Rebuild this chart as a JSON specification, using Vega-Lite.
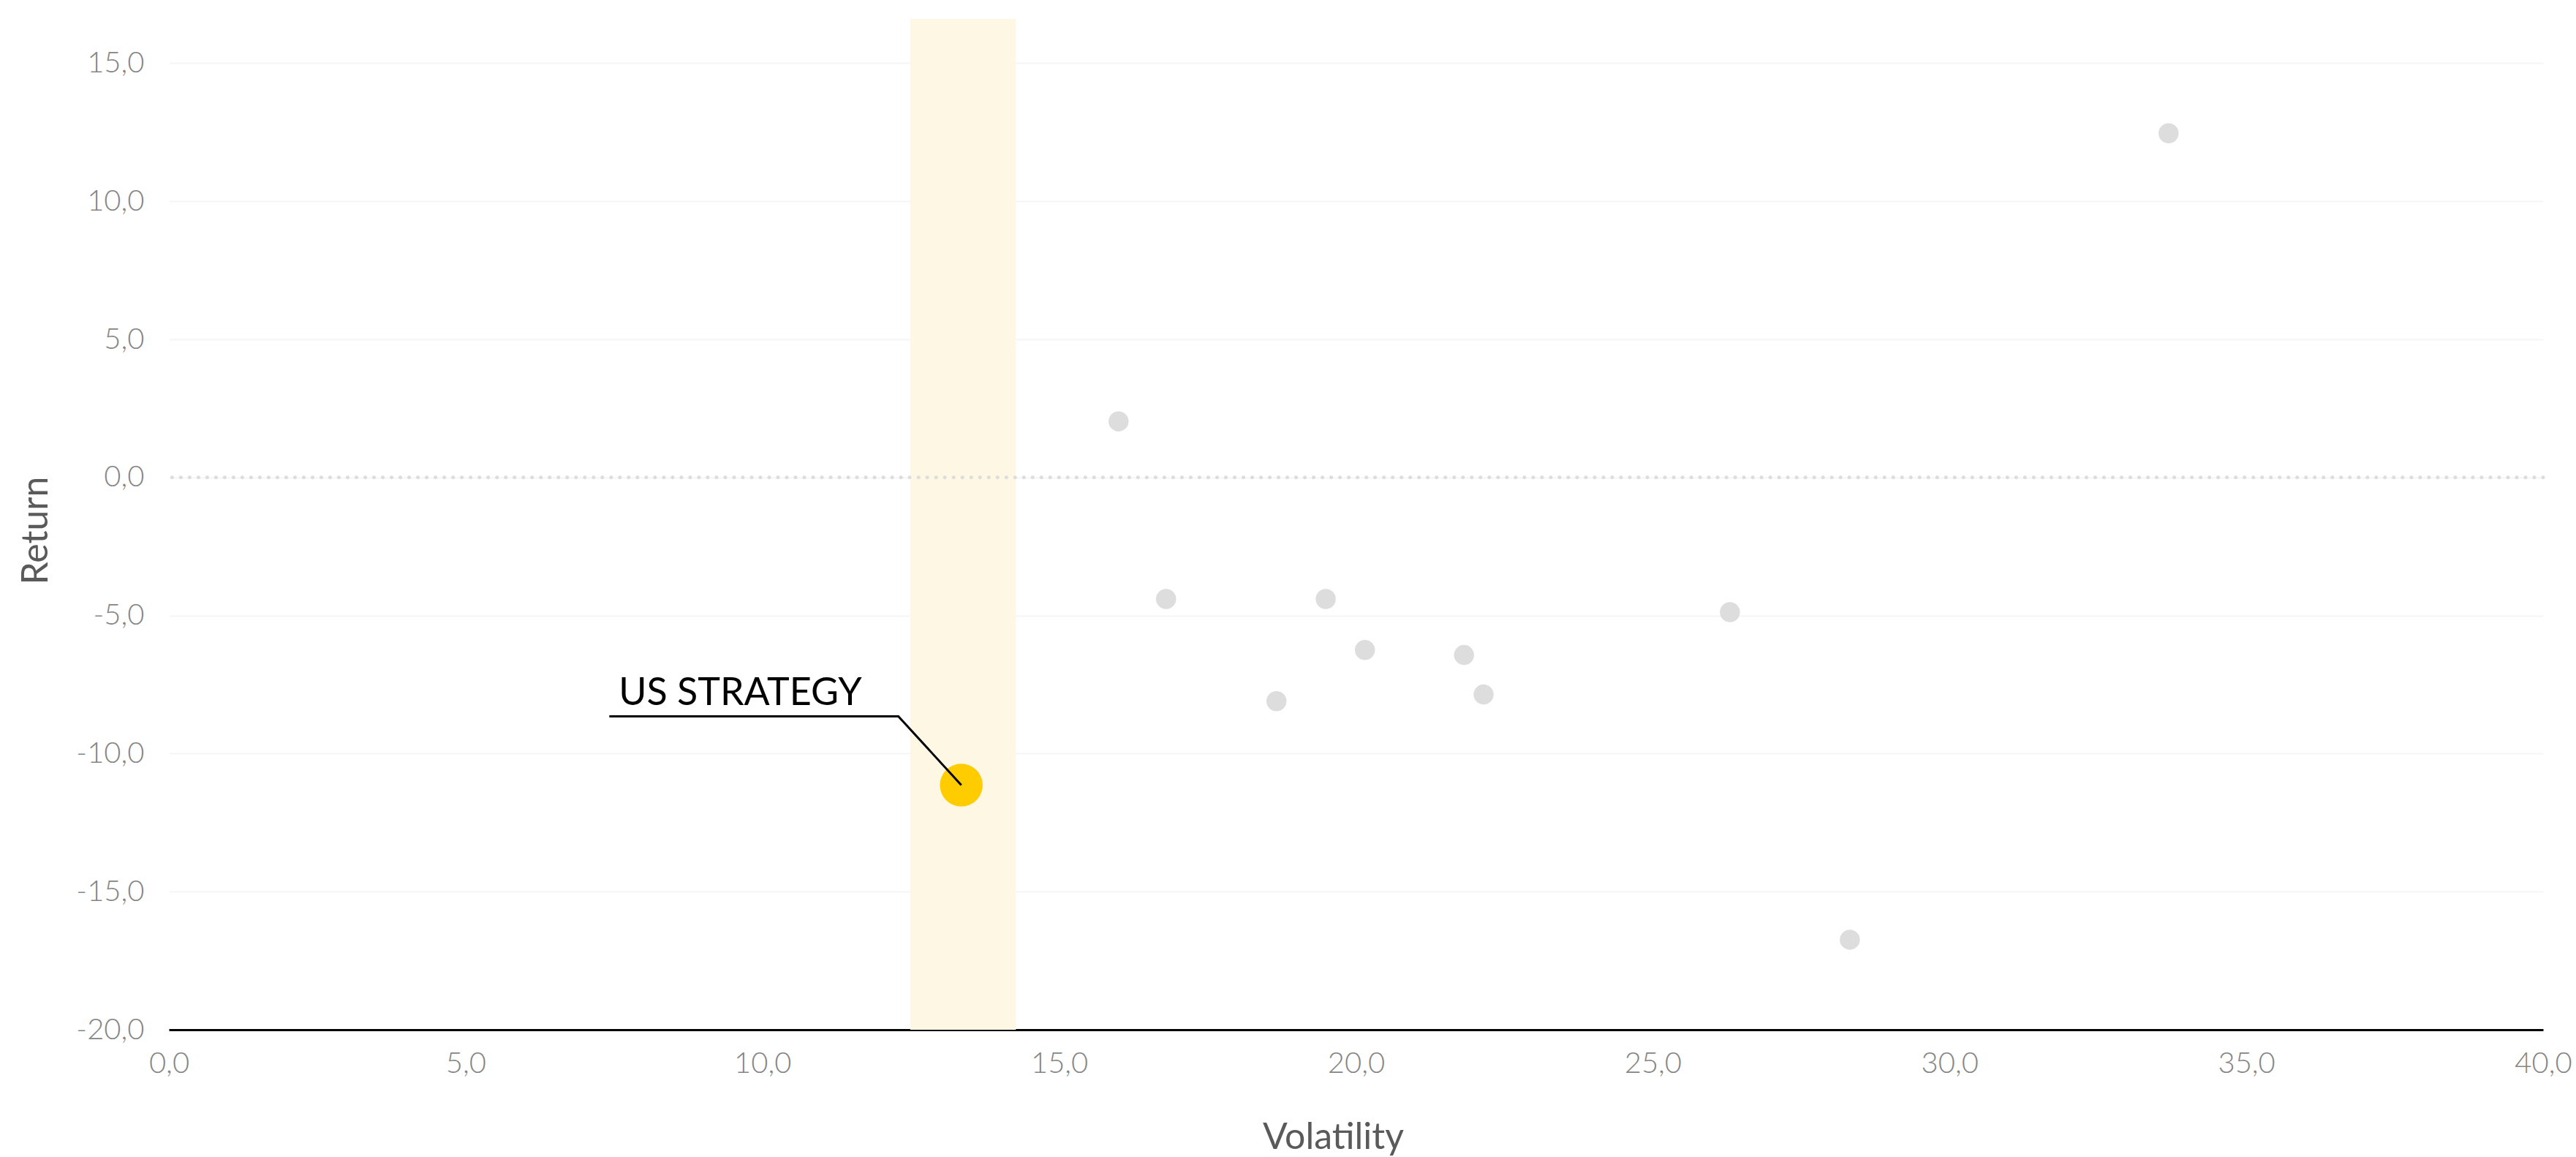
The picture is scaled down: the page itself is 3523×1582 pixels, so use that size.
{
  "$schema": "https://vega.github.io/schema/vega-lite/v6.json",
  "autosize": {"type": "none"},
  "padding": {"left": 231, "top": 26, "right": 45, "bottom": 174},
  "width": 3247,
  "height": 1382,
  "background": "white",
  "config": {
    "view": {"stroke": null},
    "font": "Lato"
  },
  "datasets": {
    "funds": [
      {"name": "A", "vol": 16.0, "ret": 2.03},
      {"name": "B", "vol": 16.8, "ret": -4.4},
      {"name": "C", "vol": 18.66, "ret": -8.1},
      {"name": "D", "vol": 19.49, "ret": -4.4},
      {"name": "E", "vol": 20.15, "ret": -6.25},
      {"name": "F", "vol": 21.82, "ret": -6.43},
      {"name": "G", "vol": 22.15, "ret": -7.86},
      {"name": "H", "vol": 26.3, "ret": -4.88},
      {"name": "I", "vol": 28.32, "ret": -16.74},
      {"name": "J", "vol": 33.69, "ret": 12.46}
    ],
    "strategy": [
      {"name": "US STRATEGY", "vol": 13.35, "ret": -11.14}
    ],
    "band": [
      {"vol": 12.49, "vol2": 14.27}
    ],
    "zero": [
      {"ret": 0}
    ],
    "leader": [
      {"order": 1, "vol": 7.42, "ret": -8.65},
      {"order": 2, "vol": 12.29, "ret": -8.65},
      {"order": 3, "vol": 13.35, "ret": -11.14}
    ],
    "label": [
      {"text": "US STRATEGY", "vol": 7.58, "ret": -8.23}
    ]
  },
  "layer": [
    {
      "data": {"name": "band"},
      "mark": {"type": "rect", "color": "#FEF7E4"},
      "encoding": {
        "x": {"field": "vol", "type": "quantitative", "scale": {"domain": [0, 40], "nice": false, "zero": false}},
        "x2": {"field": "vol2"}
      }
    },
    {
      "data": {"name": "funds"},
      "mark": {"type": "circle", "color": "#DDDDDD", "opacity": 1, "size": 755},
      "encoding": {
        "x": {
          "field": "vol", "type": "quantitative",
          "scale": {"domain": [0, 40], "nice": false, "zero": false},
          "axis": {
            "title": "Volatility",
            "values": [0, 5, 10, 15, 20, 25, 30, 35, 40],
            "labelExpr": "replace(format(datum.value, '.1f'), '.', ',')",
            "grid": false,
            "ticks": false,
            "domain": true,
            "domainColor": "#000000",
            "domainWidth": 3,
            "labelFont": "Lato",
            "labelFontWeight": 300,
            "labelFontSize": 40,
            "labelColor": "#858585",
            "labelBaseline": "middle",
            "labelPadding": 46,
            "labelFlush": false,
            "labelOverlap": false,
            "titleFont": "Lato",
            "titleFontWeight": 400,
            "titleFontSize": 50,
            "titleColor": "#5A5A5A",
            "titleX": 1592,
            "titleY": 162,
            "titleAlign": "center",
            "titleBaseline": "alphabetic"
          }
        },
        "y": {
          "field": "ret", "type": "quantitative",
          "scale": {"domain": [-20, 16.6], "nice": false, "zero": false},
          "axis": {
            "title": "Return",
            "values": [-20, -15, -10, -5, 0, 5, 10, 15],
            "labelExpr": "(datum.value < 0 ? '-' : '') + replace(format(abs(datum.value), '.1f'), '.', ',')",
            "grid": true,
            "gridColor": "#F6F6F6",
            "gridWidth": 2,
            "ticks": false,
            "domain": false,
            "labelFont": "Lato",
            "labelFontWeight": 300,
            "labelFontSize": 40,
            "labelColor": "#858585",
            "labelPadding": 34,
            "labelOverlap": false,
            "titleFont": "Lato",
            "titleFontWeight": 400,
            "titleFontSize": 50,
            "titleColor": "#5A5A5A",
            "titleAngle": -90,
            "titleX": -182,
            "titleY": 699,
            "titleAlign": "center",
            "titleBaseline": "middle"
          }
        }
      }
    },
    {
      "data": {"name": "zero"},
      "mark": {"type": "rule", "color": "#DDDDDD", "strokeWidth": 5, "strokeDash": [0.01, 12], "strokeCap": "round"},
      "encoding": {
        "y": {"field": "ret", "type": "quantitative"}
      }
    },
    {
      "data": {"name": "strategy"},
      "mark": {"type": "circle", "color": "#FFCC00", "opacity": 1, "size": 3421},
      "encoding": {
        "x": {"field": "vol", "type": "quantitative"},
        "y": {"field": "ret", "type": "quantitative"}
      }
    },
    {
      "data": {"name": "leader"},
      "mark": {"type": "line", "color": "#000000", "strokeWidth": 3},
      "encoding": {
        "x": {"field": "vol", "type": "quantitative"},
        "y": {"field": "ret", "type": "quantitative"},
        "order": {"field": "order", "type": "quantitative"}
      }
    },
    {
      "data": {"name": "label"},
      "mark": {"type": "text", "font": "Lato", "fontSize": 52, "color": "#000000", "align": "left", "baseline": "alphabetic"},
      "encoding": {
        "x": {"field": "vol", "type": "quantitative"},
        "y": {"field": "ret", "type": "quantitative"},
        "text": {"field": "text"}
      }
    }
  ]
}
